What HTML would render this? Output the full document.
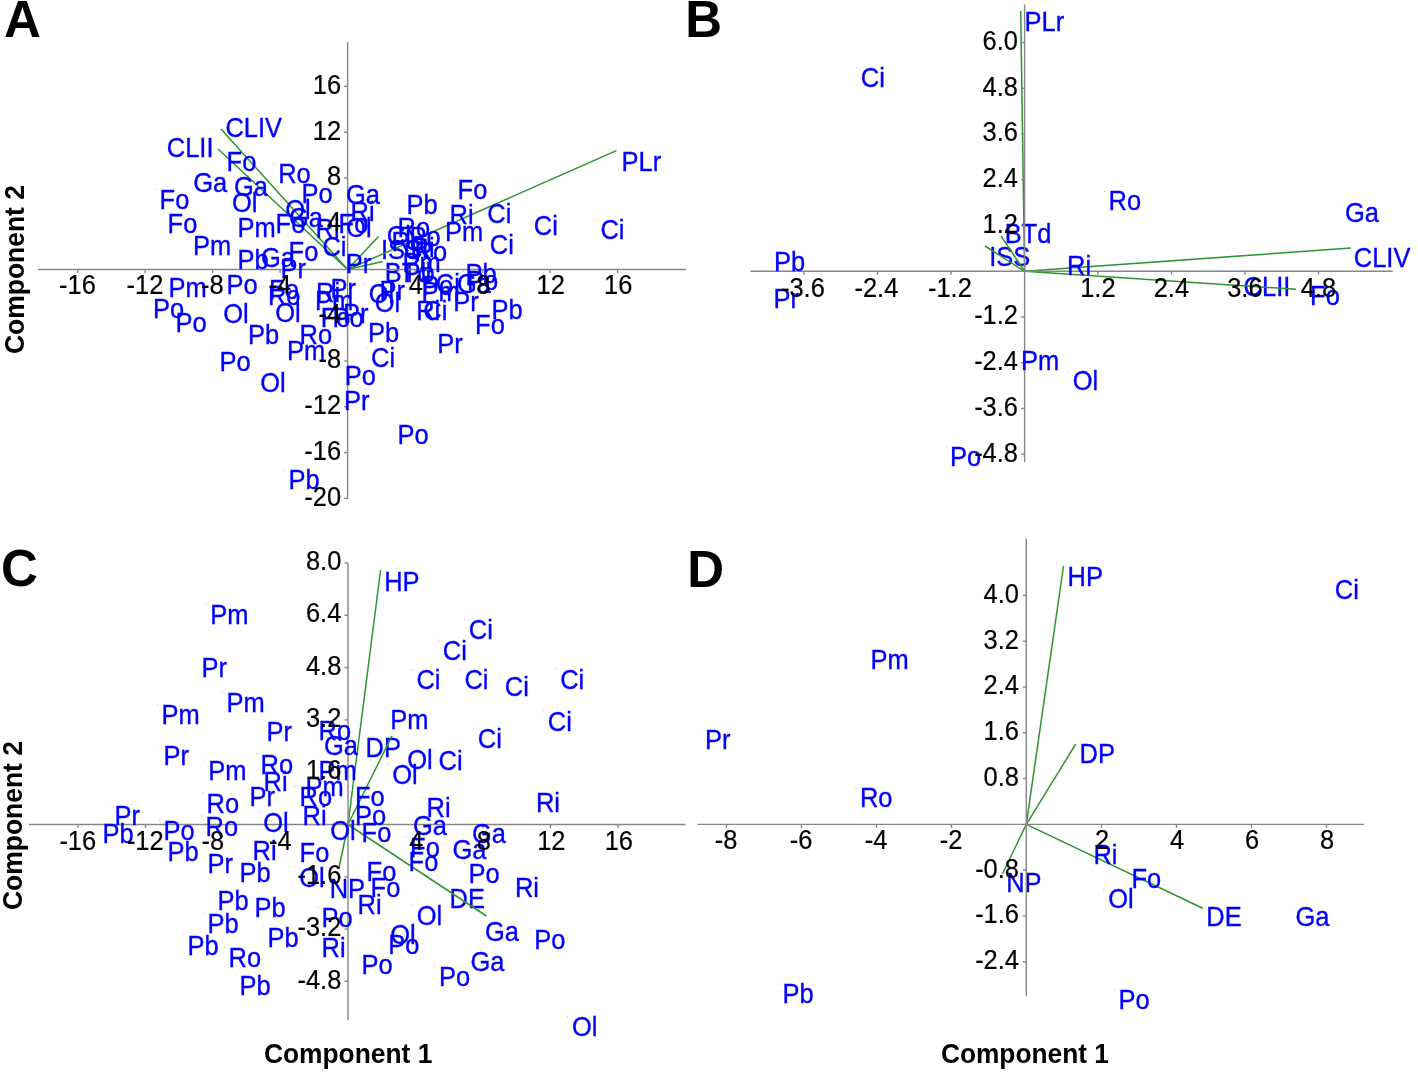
<!DOCTYPE html>
<html><head><meta charset="utf-8"><title>PCA biplots</title>
<style>
html,body{margin:0;padding:0;background:#fff;}
svg{display:block;font-family:"Liberation Sans",Arial,sans-serif;font-size:27.1px;}
</style></head><body>
<svg width="1418" height="1073" viewBox="0 0 1418 1073">
<rect width="1418" height="1073" fill="#fff"/>
<g fill="#0000ff" stroke="#0000ff" stroke-width="0.35">
<text transform="translate(225.4 136.5) scale(0.94 1)">CLIV</text>
<text transform="translate(166.8 156.5) scale(0.94 1)">CLII</text>
<text transform="translate(621.6 170.9) scale(0.94 1)">PLr</text>
<text transform="translate(380.9 258.5) scale(0.94 1)">ISS</text>
<text transform="translate(384.7 282.4) scale(0.94 1)">BTd</text>
</g>
<g stroke="#2f942f" stroke-width="1.5" fill="none">
<line x1="347.6" y1="269.5" x2="221" y2="129"/>
<line x1="347.6" y1="269.5" x2="218" y2="149"/>
<line x1="347.6" y1="269.5" x2="616.4" y2="150.6"/>
<line x1="347.6" y1="269.5" x2="378.5" y2="236.4"/>
<line x1="347.6" y1="269.5" x2="382.6" y2="261.4"/>
</g>
<g stroke="#878787" stroke-width="1.4" fill="none">
<line x1="37.9" y1="269.5" x2="686" y2="269.5"/>
<line x1="347.6" y1="42" x2="347.6" y2="498.5"/>
<line x1="77.7" y1="269.5" x2="77.7" y2="273.0"/>
<line x1="145.2" y1="269.5" x2="145.2" y2="273.0"/>
<line x1="212.6" y1="269.5" x2="212.6" y2="273.0"/>
<line x1="280.1" y1="269.5" x2="280.1" y2="273.0"/>
<line x1="415.1" y1="269.5" x2="415.1" y2="273.0"/>
<line x1="482.6" y1="269.5" x2="482.6" y2="273.0"/>
<line x1="550" y1="269.5" x2="550" y2="273.0"/>
<line x1="617.5" y1="269.5" x2="617.5" y2="273.0"/>
<line x1="344.1" y1="86.4" x2="347.6" y2="86.4"/>
<line x1="344.1" y1="132.2" x2="347.6" y2="132.2"/>
<line x1="344.1" y1="178" x2="347.6" y2="178"/>
<line x1="344.1" y1="223.7" x2="347.6" y2="223.7"/>
<line x1="344.1" y1="315.3" x2="347.6" y2="315.3"/>
<line x1="344.1" y1="361.1" x2="347.6" y2="361.1"/>
<line x1="344.1" y1="406.8" x2="347.6" y2="406.8"/>
<line x1="344.1" y1="452.6" x2="347.6" y2="452.6"/>
<line x1="344.1" y1="498.4" x2="347.6" y2="498.4"/>
</g>
<g fill="#0000ff" stroke="#0000ff" stroke-width="0.35">
<text transform="translate(226.6 170.5) scale(0.94 1)">Fo</text>
<text transform="translate(278.2 182.5) scale(0.94 1)">Ro</text>
<text transform="translate(193.3 191.9) scale(0.94 1)">Ga</text>
<text transform="translate(233.9 195.9) scale(0.94 1)">Ga</text>
<text transform="translate(301.6 202.5) scale(0.94 1)">Po</text>
<text transform="translate(345.9 203.9) scale(0.94 1)">Ga</text>
<text transform="translate(159.6 208.5) scale(0.94 1)">Fo</text>
<text transform="translate(231.9 211.9) scale(0.94 1)">Ol</text>
<text transform="translate(406.6 213.9) scale(0.94 1)">Pb</text>
<text transform="translate(285.3 218.9) scale(0.94 1)">Ol</text>
<text transform="translate(350.6 220.9) scale(0.94 1)">Ri</text>
<text transform="translate(288.9 226.9) scale(0.94 1)">Ga</text>
<text transform="translate(167.6 232.5) scale(0.94 1)">Fo</text>
<text transform="translate(275.6 232.5) scale(0.94 1)">Fo</text>
<text transform="translate(338.6 233.3) scale(0.94 1)">Fo</text>
<text transform="translate(346.3 237.3) scale(0.94 1)">Ol</text>
<text transform="translate(237.6 237.3) scale(0.94 1)">Pm</text>
<text transform="translate(315.6 237.9) scale(0.94 1)">Ri</text>
<text transform="translate(397.6 236.9) scale(0.94 1)">Ro</text>
<text transform="translate(193.0 255.3) scale(0.94 1)">Pm</text>
<text transform="translate(288.6 260.9) scale(0.94 1)">Fo</text>
<text transform="translate(322.4 255.9) scale(0.94 1)">Ci</text>
<text transform="translate(237.6 268.9) scale(0.94 1)">Pb</text>
<text transform="translate(260.9 266.9) scale(0.94 1)">Ga</text>
<text transform="translate(280.6 277.9) scale(0.94 1)">Pr</text>
<text transform="translate(345.8 272.9) scale(0.94 1)">Pr</text>
<text transform="translate(457.6 198.9) scale(0.94 1)">Fo</text>
<text transform="translate(449.6 223.5) scale(0.94 1)">Ri</text>
<text transform="translate(487.3 223.3) scale(0.94 1)">Ci</text>
<text transform="translate(533.8 234.9) scale(0.94 1)">Ci</text>
<text transform="translate(600.4 239.3) scale(0.94 1)">Ci</text>
<text transform="translate(445.0 241.2) scale(0.94 1)">Pm</text>
<text transform="translate(489.8 253.7) scale(0.94 1)">Ci</text>
<text transform="translate(168.6 296.9) scale(0.94 1)">Pm</text>
<text transform="translate(226.6 293.9) scale(0.94 1)">Po</text>
<text transform="translate(267.9 305.4) scale(0.94 1)">Ro</text>
<text transform="translate(269.1 299.4) scale(0.94 1)">Fo</text>
<text transform="translate(153.0 317.9) scale(0.94 1)">Po</text>
<text transform="translate(175.6 331.5) scale(0.94 1)">Po</text>
<text transform="translate(223.3 322.9) scale(0.94 1)">Ol</text>
<text transform="translate(275.3 321.9) scale(0.94 1)">Ol</text>
<text transform="translate(316.1 302.4) scale(0.94 1)">Ri</text>
<text transform="translate(330.6 297.9) scale(0.94 1)">Pr</text>
<text transform="translate(314.9 309.9) scale(0.94 1)">Pm</text>
<text transform="translate(343.1 323.4) scale(0.94 1)">Pr</text>
<text transform="translate(320.8 326.9) scale(0.94 1)">Fo</text>
<text transform="translate(332.6 326.9) scale(0.94 1)">Po</text>
<text transform="translate(368.8 302.9) scale(0.94 1)">Ol</text>
<text transform="translate(379.6 299.9) scale(0.94 1)">Pr</text>
<text transform="translate(374.8 311.5) scale(0.94 1)">Ol</text>
<text transform="translate(248.0 343.9) scale(0.94 1)">Pb</text>
<text transform="translate(299.6 343.9) scale(0.94 1)">Ro</text>
<text transform="translate(367.9 341.9) scale(0.94 1)">Pb</text>
<text transform="translate(286.9 359.9) scale(0.94 1)">Pm</text>
<text transform="translate(371.0 367.3) scale(0.94 1)">Ci</text>
<text transform="translate(219.6 370.9) scale(0.94 1)">Po</text>
<text transform="translate(260.3 391.9) scale(0.94 1)">Ol</text>
<text transform="translate(344.8 384.5) scale(0.94 1)">Po</text>
<text transform="translate(343.9 409.9) scale(0.94 1)">Pr</text>
<text transform="translate(397.6 443.9) scale(0.94 1)">Po</text>
<text transform="translate(288.6 488.9) scale(0.94 1)">Pb</text>
<text transform="translate(386.8 244.9) scale(0.94 1)">Ci</text>
<text transform="translate(391.6 250.9) scale(0.94 1)">Ro</text>
<text transform="translate(409.6 245.9) scale(0.94 1)">Po</text>
<text transform="translate(414.6 260.6) scale(0.94 1)">Ro</text>
<text transform="translate(403.8 258.9) scale(0.94 1)">Ci</text>
<text transform="translate(410.6 256.9) scale(0.94 1)">Ri</text>
<text transform="translate(402.4 272.4) scale(0.94 1)">Pm</text>
<text transform="translate(403.6 281.9) scale(0.94 1)">Pb</text>
<text transform="translate(465.6 282.9) scale(0.94 1)">Pb</text>
<text transform="translate(456.9 292.9) scale(0.94 1)">Ga</text>
<text transform="translate(467.1 290.4) scale(0.94 1)">Po</text>
<text transform="translate(435.8 292.9) scale(0.94 1)">Ci</text>
<text transform="translate(422.1 294.9) scale(0.94 1)">Po</text>
<text transform="translate(421.5 301.4) scale(0.94 1)">Pm</text>
<text transform="translate(453.2 310.8) scale(0.94 1)">Pr</text>
<text transform="translate(491.6 318.9) scale(0.94 1)">Pb</text>
<text transform="translate(475.1 333.9) scale(0.94 1)">Fo</text>
<text transform="translate(416.2 320.3) scale(0.94 1)">Ri</text>
<text transform="translate(423.3 320.3) scale(0.94 1)">Ci</text>
<text transform="translate(437.3 353.4) scale(0.94 1)">Pr</text>
</g>
<g opacity="0.32">
<rect x="222.1" y="151.0" width="1.3" height="1.3" fill="#cd5c5c"/>
<rect x="273.7" y="163.0" width="1.3" height="1.3" fill="#333333"/>
<rect x="188.5" y="172.4" width="1.3" height="1.3" fill="#7fffd4"/>
<rect x="229.1" y="176.4" width="1.3" height="1.3" fill="#7fffd4"/>
<rect x="297.1" y="183.0" width="1.3" height="1.3" fill="#4169e1"/>
<rect x="341.1" y="184.4" width="1.3" height="1.3" fill="#7fffd4"/>
<rect x="155.1" y="189.0" width="1.3" height="1.3" fill="#cd5c5c"/>
<rect x="226.7" y="192.4" width="1.3" height="1.3" fill="#ff00ff"/>
<rect x="402.1" y="194.4" width="1.3" height="1.3" fill="#da70d6"/>
<rect x="280.1" y="199.4" width="1.3" height="1.3" fill="#ff00ff"/>
<rect x="346.1" y="201.4" width="1.3" height="1.3" fill="#a9a9a9"/>
<rect x="284.1" y="207.4" width="1.3" height="1.3" fill="#7fffd4"/>
<rect x="163.1" y="213.0" width="1.3" height="1.3" fill="#cd5c5c"/>
<rect x="271.1" y="213.0" width="1.3" height="1.3" fill="#cd5c5c"/>
<rect x="334.1" y="213.8" width="1.3" height="1.3" fill="#cd5c5c"/>
<rect x="341.1" y="217.8" width="1.3" height="1.3" fill="#ff00ff"/>
<rect x="233.1" y="217.8" width="1.3" height="1.3" fill="#5f9ea0"/>
<rect x="311.1" y="218.4" width="1.3" height="1.3" fill="#a9a9a9"/>
<rect x="393.1" y="217.4" width="1.3" height="1.3" fill="#333333"/>
<rect x="188.5" y="235.8" width="1.3" height="1.3" fill="#5f9ea0"/>
<rect x="284.1" y="241.4" width="1.3" height="1.3" fill="#cd5c5c"/>
<rect x="317.7" y="236.4" width="1.3" height="1.3" fill="#d2691e"/>
<rect x="233.1" y="249.4" width="1.3" height="1.3" fill="#da70d6"/>
<rect x="256.1" y="247.4" width="1.3" height="1.3" fill="#7fffd4"/>
<rect x="276.1" y="258.4" width="1.3" height="1.3" fill="#90ee90"/>
<rect x="341.3" y="253.4" width="1.3" height="1.3" fill="#90ee90"/>
<rect x="453.1" y="179.4" width="1.3" height="1.3" fill="#cd5c5c"/>
<rect x="445.1" y="204.0" width="1.3" height="1.3" fill="#a9a9a9"/>
<rect x="482.6" y="203.8" width="1.3" height="1.3" fill="#d2691e"/>
<rect x="529.1" y="215.4" width="1.3" height="1.3" fill="#d2691e"/>
<rect x="595.7" y="219.8" width="1.3" height="1.3" fill="#d2691e"/>
<rect x="440.5" y="221.7" width="1.3" height="1.3" fill="#5f9ea0"/>
<rect x="485.1" y="234.2" width="1.3" height="1.3" fill="#d2691e"/>
<rect x="164.1" y="277.4" width="1.3" height="1.3" fill="#5f9ea0"/>
<rect x="222.1" y="274.4" width="1.3" height="1.3" fill="#4169e1"/>
<rect x="263.4" y="285.9" width="1.3" height="1.3" fill="#333333"/>
<rect x="264.6" y="279.9" width="1.3" height="1.3" fill="#cd5c5c"/>
<rect x="148.5" y="298.4" width="1.3" height="1.3" fill="#4169e1"/>
<rect x="171.1" y="312.0" width="1.3" height="1.3" fill="#4169e1"/>
<rect x="218.1" y="303.4" width="1.3" height="1.3" fill="#ff00ff"/>
<rect x="270.1" y="302.4" width="1.3" height="1.3" fill="#ff00ff"/>
<rect x="311.6" y="282.9" width="1.3" height="1.3" fill="#a9a9a9"/>
<rect x="326.1" y="278.4" width="1.3" height="1.3" fill="#90ee90"/>
<rect x="310.4" y="290.4" width="1.3" height="1.3" fill="#5f9ea0"/>
<rect x="338.6" y="303.9" width="1.3" height="1.3" fill="#90ee90"/>
<rect x="316.3" y="307.4" width="1.3" height="1.3" fill="#cd5c5c"/>
<rect x="328.1" y="307.4" width="1.3" height="1.3" fill="#4169e1"/>
<rect x="363.6" y="283.4" width="1.3" height="1.3" fill="#ff00ff"/>
<rect x="375.1" y="280.4" width="1.3" height="1.3" fill="#90ee90"/>
<rect x="369.6" y="292.0" width="1.3" height="1.3" fill="#ff00ff"/>
<rect x="243.5" y="324.4" width="1.3" height="1.3" fill="#da70d6"/>
<rect x="295.1" y="324.4" width="1.3" height="1.3" fill="#333333"/>
<rect x="363.4" y="322.4" width="1.3" height="1.3" fill="#da70d6"/>
<rect x="282.4" y="340.4" width="1.3" height="1.3" fill="#5f9ea0"/>
<rect x="366.3" y="347.8" width="1.3" height="1.3" fill="#d2691e"/>
<rect x="215.1" y="351.4" width="1.3" height="1.3" fill="#4169e1"/>
<rect x="255.1" y="372.4" width="1.3" height="1.3" fill="#ff00ff"/>
<rect x="340.3" y="365.0" width="1.3" height="1.3" fill="#4169e1"/>
<rect x="339.4" y="390.4" width="1.3" height="1.3" fill="#90ee90"/>
<rect x="393.1" y="424.4" width="1.3" height="1.3" fill="#4169e1"/>
<rect x="284.1" y="469.4" width="1.3" height="1.3" fill="#da70d6"/>
<rect x="382.1" y="225.4" width="1.3" height="1.3" fill="#d2691e"/>
<rect x="387.1" y="231.4" width="1.3" height="1.3" fill="#333333"/>
<rect x="405.1" y="226.4" width="1.3" height="1.3" fill="#4169e1"/>
<rect x="410.1" y="241.1" width="1.3" height="1.3" fill="#333333"/>
<rect x="399.1" y="239.4" width="1.3" height="1.3" fill="#d2691e"/>
<rect x="406.1" y="237.4" width="1.3" height="1.3" fill="#a9a9a9"/>
<rect x="397.9" y="252.9" width="1.3" height="1.3" fill="#5f9ea0"/>
<rect x="399.1" y="262.4" width="1.3" height="1.3" fill="#da70d6"/>
<rect x="461.1" y="263.4" width="1.3" height="1.3" fill="#da70d6"/>
<rect x="452.1" y="273.4" width="1.3" height="1.3" fill="#7fffd4"/>
<rect x="462.6" y="270.9" width="1.3" height="1.3" fill="#4169e1"/>
<rect x="431.1" y="273.4" width="1.3" height="1.3" fill="#d2691e"/>
<rect x="417.6" y="275.4" width="1.3" height="1.3" fill="#4169e1"/>
<rect x="417.0" y="281.9" width="1.3" height="1.3" fill="#5f9ea0"/>
<rect x="448.7" y="291.3" width="1.3" height="1.3" fill="#90ee90"/>
<rect x="487.1" y="299.4" width="1.3" height="1.3" fill="#da70d6"/>
<rect x="470.6" y="314.4" width="1.3" height="1.3" fill="#cd5c5c"/>
<rect x="411.7" y="300.8" width="1.3" height="1.3" fill="#a9a9a9"/>
<rect x="418.6" y="300.8" width="1.3" height="1.3" fill="#d2691e"/>
<rect x="432.8" y="333.9" width="1.3" height="1.3" fill="#90ee90"/>
</g>
<g fill="#0000ff" stroke="#0000ff" stroke-width="0.35">
<text transform="translate(1024.6 30.9) scale(0.94 1)">PLr</text>
<text transform="translate(1004.7 242.9) scale(0.94 1)">BTd</text>
<text transform="translate(989.3 265.9) scale(0.94 1)">ISS</text>
<text transform="translate(1353.8 267.4) scale(0.94 1)">CLIV</text>
<text transform="translate(1243.6 295.9) scale(0.94 1)">CLII</text>
</g>
<g stroke="#2f942f" stroke-width="1.5" fill="none">
<line x1="1024.6" y1="271.3" x2="1020.7" y2="11"/>
<line x1="1024.6" y1="271.3" x2="1001" y2="236"/>
<line x1="1024.6" y1="271.3" x2="985" y2="246"/>
<line x1="1024.6" y1="271.3" x2="1351" y2="248"/>
<line x1="1024.6" y1="271.3" x2="1296" y2="289.25"/>
</g>
<g stroke="#878787" stroke-width="1.4" fill="none">
<line x1="750.5" y1="271.3" x2="1392.8" y2="271.3"/>
<line x1="1024.6" y1="4.5" x2="1024.6" y2="462"/>
<line x1="804" y1="271.3" x2="804" y2="274.8"/>
<line x1="877.5" y1="271.3" x2="877.5" y2="274.8"/>
<line x1="951" y1="271.3" x2="951" y2="274.8"/>
<line x1="1098" y1="271.3" x2="1098" y2="274.8"/>
<line x1="1171.5" y1="271.3" x2="1171.5" y2="274.8"/>
<line x1="1245" y1="271.3" x2="1245" y2="274.8"/>
<line x1="1318.5" y1="271.3" x2="1318.5" y2="274.8"/>
<line x1="1021.0999999999999" y1="42.5" x2="1024.6" y2="42.5"/>
<line x1="1021.0999999999999" y1="88.25" x2="1024.6" y2="88.25"/>
<line x1="1021.0999999999999" y1="134" x2="1024.6" y2="134"/>
<line x1="1021.0999999999999" y1="179.75" x2="1024.6" y2="179.75"/>
<line x1="1021.0999999999999" y1="225.5" x2="1024.6" y2="225.5"/>
<line x1="1021.0999999999999" y1="317" x2="1024.6" y2="317"/>
<line x1="1021.0999999999999" y1="362.75" x2="1024.6" y2="362.75"/>
<line x1="1021.0999999999999" y1="408.5" x2="1024.6" y2="408.5"/>
<line x1="1021.0999999999999" y1="454.25" x2="1024.6" y2="454.25"/>
</g>
<g fill="#0000ff" stroke="#0000ff" stroke-width="0.35">
<text transform="translate(860.8 86.9) scale(0.94 1)">Ci</text>
<text transform="translate(1108.6 210.4) scale(0.94 1)">Ro</text>
<text transform="translate(1344.9 221.9) scale(0.94 1)">Ga</text>
<text transform="translate(1067.1 274.6) scale(0.94 1)">Ri</text>
<text transform="translate(774.1 270.9) scale(0.94 1)">Pb</text>
<text transform="translate(773.6 308.4) scale(0.94 1)">Pr</text>
<text transform="translate(1021.1 369.6) scale(0.94 1)">Pm</text>
<text transform="translate(1072.8 390.4) scale(0.94 1)">Ol</text>
<text transform="translate(949.9 465.9) scale(0.94 1)">Po</text>
<text transform="translate(1310.1 305.4) scale(0.94 1)">Fo</text>
</g>
<g opacity="0.32">
<rect x="856.1" y="67.4" width="1.3" height="1.3" fill="#d2691e"/>
<rect x="1104.1" y="190.9" width="1.3" height="1.3" fill="#333333"/>
<rect x="1340.1" y="202.4" width="1.3" height="1.3" fill="#7fffd4"/>
<rect x="1062.6" y="255.2" width="1.3" height="1.3" fill="#a9a9a9"/>
<rect x="769.6" y="251.4" width="1.3" height="1.3" fill="#da70d6"/>
<rect x="769.1" y="288.9" width="1.3" height="1.3" fill="#90ee90"/>
<rect x="1016.6" y="350.1" width="1.3" height="1.3" fill="#5f9ea0"/>
<rect x="1067.6" y="370.9" width="1.3" height="1.3" fill="#ff00ff"/>
<rect x="945.4" y="446.4" width="1.3" height="1.3" fill="#4169e1"/>
<rect x="1305.6" y="285.9" width="1.3" height="1.3" fill="#cd5c5c"/>
</g>
<g fill="#0000ff" stroke="#0000ff" stroke-width="0.35">
<text transform="translate(384.2 590.8) scale(0.94 1)">HP</text>
<text transform="translate(365.5 756.8) scale(0.94 1)">DP</text>
<text transform="translate(329.7 898.3) scale(0.94 1)">NP</text>
<text transform="translate(449.5 908.3) scale(0.94 1)">DE</text>
</g>
<g stroke="#2f942f" stroke-width="1.5" fill="none">
<line x1="348" y1="824.5" x2="380.6" y2="570"/>
<line x1="348" y1="824.5" x2="392" y2="735.8"/>
<line x1="348" y1="824.5" x2="339" y2="868"/>
<line x1="348" y1="824.5" x2="486.4" y2="916"/>
</g>
<g stroke="#878787" stroke-width="1.4" fill="none">
<line x1="29" y1="824.5" x2="685.5" y2="824.5"/>
<line x1="348" y1="563" x2="348" y2="1020"/>
<line x1="78" y1="824.5" x2="78" y2="828.0"/>
<line x1="145.5" y1="824.5" x2="145.5" y2="828.0"/>
<line x1="213" y1="824.5" x2="213" y2="828.0"/>
<line x1="280.5" y1="824.5" x2="280.5" y2="828.0"/>
<line x1="415.5" y1="824.5" x2="415.5" y2="828.0"/>
<line x1="483" y1="824.5" x2="483" y2="828.0"/>
<line x1="550.5" y1="824.5" x2="550.5" y2="828.0"/>
<line x1="618" y1="824.5" x2="618" y2="828.0"/>
<line x1="344.5" y1="563" x2="348" y2="563"/>
<line x1="344.5" y1="615.3" x2="348" y2="615.3"/>
<line x1="344.5" y1="667.6" x2="348" y2="667.6"/>
<line x1="344.5" y1="719.9" x2="348" y2="719.9"/>
<line x1="344.5" y1="772.2" x2="348" y2="772.2"/>
<line x1="344.5" y1="876.8" x2="348" y2="876.8"/>
<line x1="344.5" y1="929.1" x2="348" y2="929.1"/>
<line x1="344.5" y1="981.4" x2="348" y2="981.4"/>
</g>
<g fill="#0000ff" stroke="#0000ff" stroke-width="0.35">
<text transform="translate(210.2 623.8) scale(0.94 1)">Pm</text>
<text transform="translate(201.6 676.8) scale(0.94 1)">Pr</text>
<text transform="translate(226.6 711.8) scale(0.94 1)">Pm</text>
<text transform="translate(161.6 724.4) scale(0.94 1)">Pm</text>
<text transform="translate(266.6 740.8) scale(0.94 1)">Pr</text>
<text transform="translate(163.6 764.8) scale(0.94 1)">Pr</text>
<text transform="translate(208.2 779.8) scale(0.94 1)">Pm</text>
<text transform="translate(260.6 773.8) scale(0.94 1)">Ro</text>
<text transform="translate(263.6 790.8) scale(0.94 1)">Ri</text>
<text transform="translate(249.6 805.8) scale(0.94 1)">Pr</text>
<text transform="translate(206.6 812.8) scale(0.94 1)">Ro</text>
<text transform="translate(114.6 824.8) scale(0.94 1)">Pr</text>
<text transform="translate(102.6 843.3) scale(0.94 1)">Pb</text>
<text transform="translate(163.6 839.8) scale(0.94 1)">Po</text>
<text transform="translate(205.6 835.8) scale(0.94 1)">Ro</text>
<text transform="translate(263.3 831.8) scale(0.94 1)">Ol</text>
<text transform="translate(167.6 860.8) scale(0.94 1)">Pb</text>
<text transform="translate(252.6 859.8) scale(0.94 1)">Ri</text>
<text transform="translate(207.6 873.3) scale(0.94 1)">Pr</text>
<text transform="translate(239.6 882.3) scale(0.94 1)">Pb</text>
<text transform="translate(217.6 910.3) scale(0.94 1)">Pb</text>
<text transform="translate(254.6 917.3) scale(0.94 1)">Pb</text>
<text transform="translate(207.6 932.8) scale(0.94 1)">Pb</text>
<text transform="translate(187.6 954.8) scale(0.94 1)">Pb</text>
<text transform="translate(267.6 946.8) scale(0.94 1)">Pb</text>
<text transform="translate(228.6 967.4) scale(0.94 1)">Ro</text>
<text transform="translate(239.6 994.8) scale(0.94 1)">Pb</text>
<text transform="translate(468.8 639.4) scale(0.94 1)">Ci</text>
<text transform="translate(442.8 660.2) scale(0.94 1)">Ci</text>
<text transform="translate(416.4 689.4) scale(0.94 1)">Ci</text>
<text transform="translate(464.4 689.4) scale(0.94 1)">Ci</text>
<text transform="translate(504.8 696.2) scale(0.94 1)">Ci</text>
<text transform="translate(560.2 688.8) scale(0.94 1)">Ci</text>
<text transform="translate(390.2 728.5) scale(0.94 1)">Pm</text>
<text transform="translate(547.8 731.3) scale(0.94 1)">Ci</text>
<text transform="translate(477.8 747.8) scale(0.94 1)">Ci</text>
<text transform="translate(318.6 739.8) scale(0.94 1)">Ro</text>
<text transform="translate(323.9 755.3) scale(0.94 1)">Ga</text>
<text transform="translate(407.3 768.8) scale(0.94 1)">Ol</text>
<text transform="translate(438.6 769.8) scale(0.94 1)">Ci</text>
<text transform="translate(392.3 784.2) scale(0.94 1)">Ol</text>
<text transform="translate(318.6 779.8) scale(0.94 1)">Pm</text>
<text transform="translate(305.6 795.8) scale(0.94 1)">Pm</text>
<text transform="translate(299.6 805.8) scale(0.94 1)">Ro</text>
<text transform="translate(355.0 805.8) scale(0.94 1)">Fo</text>
<text transform="translate(426.6 817.3) scale(0.94 1)">Ri</text>
<text transform="translate(535.9 811.8) scale(0.94 1)">Ri</text>
<text transform="translate(302.6 824.8) scale(0.94 1)">Ri</text>
<text transform="translate(355.0 824.8) scale(0.94 1)">Po</text>
<text transform="translate(330.3 839.8) scale(0.94 1)">Ol</text>
<text transform="translate(361.6 841.8) scale(0.94 1)">Fo</text>
<text transform="translate(412.9 834.8) scale(0.94 1)">Ga</text>
<text transform="translate(471.9 842.8) scale(0.94 1)">Ga</text>
<text transform="translate(410.1 856.8) scale(0.94 1)">Fo</text>
<text transform="translate(452.5 858.8) scale(0.94 1)">Ga</text>
<text transform="translate(408.6 871.1) scale(0.94 1)">Fo</text>
<text transform="translate(299.6 861.8) scale(0.94 1)">Fo</text>
<text transform="translate(299.3 886.8) scale(0.94 1)">Ol</text>
<text transform="translate(366.6 880.8) scale(0.94 1)">Fo</text>
<text transform="translate(468.6 883.1) scale(0.94 1)">Po</text>
<text transform="translate(370.6 897.1) scale(0.94 1)">Fo</text>
<text transform="translate(514.9 897.0) scale(0.94 1)">Ri</text>
<text transform="translate(357.6 914.3) scale(0.94 1)">Ri</text>
<text transform="translate(416.8 925.1) scale(0.94 1)">Ol</text>
<text transform="translate(321.6 926.8) scale(0.94 1)">Po</text>
<text transform="translate(484.9 941.0) scale(0.94 1)">Ga</text>
<text transform="translate(534.3 948.6) scale(0.94 1)">Po</text>
<text transform="translate(390.3 943.8) scale(0.94 1)">Ol</text>
<text transform="translate(388.2 954.2) scale(0.94 1)">Po</text>
<text transform="translate(321.6 956.8) scale(0.94 1)">Ri</text>
<text transform="translate(361.6 974.2) scale(0.94 1)">Po</text>
<text transform="translate(470.4 970.8) scale(0.94 1)">Ga</text>
<text transform="translate(439.0 985.8) scale(0.94 1)">Po</text>
<text transform="translate(572.0 1036.4) scale(0.94 1)">Ol</text>
</g>
<g opacity="0.32">
<rect x="205.7" y="603.4" width="1.3" height="1.3" fill="#5f9ea0"/>
<rect x="197.1" y="656.4" width="1.3" height="1.3" fill="#90ee90"/>
<rect x="222.1" y="691.4" width="1.3" height="1.3" fill="#5f9ea0"/>
<rect x="157.1" y="704.0" width="1.3" height="1.3" fill="#5f9ea0"/>
<rect x="262.1" y="720.4" width="1.3" height="1.3" fill="#90ee90"/>
<rect x="159.1" y="744.4" width="1.3" height="1.3" fill="#90ee90"/>
<rect x="203.7" y="759.4" width="1.3" height="1.3" fill="#5f9ea0"/>
<rect x="256.1" y="753.4" width="1.3" height="1.3" fill="#333333"/>
<rect x="259.1" y="770.4" width="1.3" height="1.3" fill="#a9a9a9"/>
<rect x="245.1" y="785.4" width="1.3" height="1.3" fill="#90ee90"/>
<rect x="202.1" y="792.4" width="1.3" height="1.3" fill="#333333"/>
<rect x="110.1" y="804.4" width="1.3" height="1.3" fill="#90ee90"/>
<rect x="98.1" y="822.9" width="1.3" height="1.3" fill="#da70d6"/>
<rect x="159.1" y="819.4" width="1.3" height="1.3" fill="#4169e1"/>
<rect x="201.1" y="815.4" width="1.3" height="1.3" fill="#333333"/>
<rect x="258.1" y="811.4" width="1.3" height="1.3" fill="#ff00ff"/>
<rect x="163.1" y="840.4" width="1.3" height="1.3" fill="#da70d6"/>
<rect x="248.1" y="839.4" width="1.3" height="1.3" fill="#a9a9a9"/>
<rect x="203.1" y="852.9" width="1.3" height="1.3" fill="#90ee90"/>
<rect x="235.1" y="861.9" width="1.3" height="1.3" fill="#da70d6"/>
<rect x="213.1" y="889.9" width="1.3" height="1.3" fill="#da70d6"/>
<rect x="250.1" y="896.9" width="1.3" height="1.3" fill="#da70d6"/>
<rect x="203.1" y="912.4" width="1.3" height="1.3" fill="#da70d6"/>
<rect x="183.1" y="934.4" width="1.3" height="1.3" fill="#da70d6"/>
<rect x="263.1" y="926.4" width="1.3" height="1.3" fill="#da70d6"/>
<rect x="224.1" y="947.0" width="1.3" height="1.3" fill="#333333"/>
<rect x="235.1" y="974.4" width="1.3" height="1.3" fill="#da70d6"/>
<rect x="464.1" y="619.0" width="1.3" height="1.3" fill="#d2691e"/>
<rect x="438.1" y="639.8" width="1.3" height="1.3" fill="#d2691e"/>
<rect x="411.7" y="669.0" width="1.3" height="1.3" fill="#d2691e"/>
<rect x="459.7" y="669.0" width="1.3" height="1.3" fill="#d2691e"/>
<rect x="500.1" y="675.8" width="1.3" height="1.3" fill="#d2691e"/>
<rect x="555.5" y="668.4" width="1.3" height="1.3" fill="#d2691e"/>
<rect x="385.7" y="708.1" width="1.3" height="1.3" fill="#5f9ea0"/>
<rect x="543.1" y="710.9" width="1.3" height="1.3" fill="#d2691e"/>
<rect x="473.1" y="727.4" width="1.3" height="1.3" fill="#d2691e"/>
<rect x="314.1" y="719.4" width="1.3" height="1.3" fill="#333333"/>
<rect x="319.1" y="734.9" width="1.3" height="1.3" fill="#7fffd4"/>
<rect x="402.1" y="748.4" width="1.3" height="1.3" fill="#ff00ff"/>
<rect x="433.9" y="749.4" width="1.3" height="1.3" fill="#d2691e"/>
<rect x="387.1" y="763.8" width="1.3" height="1.3" fill="#ff00ff"/>
<rect x="314.1" y="759.4" width="1.3" height="1.3" fill="#5f9ea0"/>
<rect x="301.1" y="775.4" width="1.3" height="1.3" fill="#5f9ea0"/>
<rect x="295.1" y="785.4" width="1.3" height="1.3" fill="#333333"/>
<rect x="350.5" y="785.4" width="1.3" height="1.3" fill="#cd5c5c"/>
<rect x="422.1" y="796.9" width="1.3" height="1.3" fill="#a9a9a9"/>
<rect x="531.4" y="791.4" width="1.3" height="1.3" fill="#a9a9a9"/>
<rect x="298.1" y="804.4" width="1.3" height="1.3" fill="#a9a9a9"/>
<rect x="350.5" y="804.4" width="1.3" height="1.3" fill="#4169e1"/>
<rect x="325.1" y="819.4" width="1.3" height="1.3" fill="#ff00ff"/>
<rect x="357.1" y="821.4" width="1.3" height="1.3" fill="#cd5c5c"/>
<rect x="408.1" y="814.4" width="1.3" height="1.3" fill="#7fffd4"/>
<rect x="467.1" y="822.4" width="1.3" height="1.3" fill="#7fffd4"/>
<rect x="405.6" y="836.4" width="1.3" height="1.3" fill="#cd5c5c"/>
<rect x="447.7" y="838.4" width="1.3" height="1.3" fill="#7fffd4"/>
<rect x="404.1" y="850.7" width="1.3" height="1.3" fill="#cd5c5c"/>
<rect x="295.1" y="841.4" width="1.3" height="1.3" fill="#cd5c5c"/>
<rect x="294.1" y="866.4" width="1.3" height="1.3" fill="#ff00ff"/>
<rect x="362.1" y="860.4" width="1.3" height="1.3" fill="#cd5c5c"/>
<rect x="464.1" y="862.7" width="1.3" height="1.3" fill="#4169e1"/>
<rect x="366.1" y="876.7" width="1.3" height="1.3" fill="#cd5c5c"/>
<rect x="510.4" y="876.6" width="1.3" height="1.3" fill="#a9a9a9"/>
<rect x="353.1" y="893.9" width="1.3" height="1.3" fill="#a9a9a9"/>
<rect x="411.6" y="904.7" width="1.3" height="1.3" fill="#ff00ff"/>
<rect x="317.1" y="906.4" width="1.3" height="1.3" fill="#4169e1"/>
<rect x="480.1" y="920.6" width="1.3" height="1.3" fill="#7fffd4"/>
<rect x="529.8" y="928.2" width="1.3" height="1.3" fill="#4169e1"/>
<rect x="385.1" y="923.4" width="1.3" height="1.3" fill="#ff00ff"/>
<rect x="383.7" y="933.8" width="1.3" height="1.3" fill="#4169e1"/>
<rect x="317.1" y="936.4" width="1.3" height="1.3" fill="#a9a9a9"/>
<rect x="357.1" y="953.8" width="1.3" height="1.3" fill="#4169e1"/>
<rect x="465.6" y="950.4" width="1.3" height="1.3" fill="#7fffd4"/>
<rect x="434.5" y="965.4" width="1.3" height="1.3" fill="#4169e1"/>
<rect x="566.8" y="1016.0" width="1.3" height="1.3" fill="#ff00ff"/>
</g>
<g fill="#0000ff" stroke="#0000ff" stroke-width="0.35">
<text transform="translate(1067.6 586.1) scale(0.94 1)">HP</text>
<text transform="translate(1079.5 763.1) scale(0.94 1)">DP</text>
<text transform="translate(1006.2 892.1) scale(0.94 1)">NP</text>
<text transform="translate(1206.3 926.4) scale(0.94 1)">DE</text>
</g>
<g stroke="#2f942f" stroke-width="1.5" fill="none">
<line x1="1026.3" y1="824.4" x2="1063.5" y2="566"/>
<line x1="1026.3" y1="824.4" x2="1075.75" y2="744"/>
<line x1="1026.3" y1="824.4" x2="1002.5" y2="873.75"/>
<line x1="1026.3" y1="824.4" x2="1202.75" y2="908.25"/>
</g>
<g stroke="#878787" stroke-width="1.4" fill="none">
<line x1="697.5" y1="824.4" x2="1364" y2="824.4"/>
<line x1="1026.3" y1="538.5" x2="1026.3" y2="996.3"/>
<line x1="726.5" y1="824.4" x2="726.5" y2="827.9"/>
<line x1="801.5" y1="824.4" x2="801.5" y2="827.9"/>
<line x1="876.5" y1="824.4" x2="876.5" y2="827.9"/>
<line x1="951.5" y1="824.4" x2="951.5" y2="827.9"/>
<line x1="1101.5" y1="824.4" x2="1101.5" y2="827.9"/>
<line x1="1176.5" y1="824.4" x2="1176.5" y2="827.9"/>
<line x1="1251.5" y1="824.4" x2="1251.5" y2="827.9"/>
<line x1="1326.5" y1="824.4" x2="1326.5" y2="827.9"/>
<line x1="1022.8" y1="595.4" x2="1026.3" y2="595.4"/>
<line x1="1022.8" y1="641.2" x2="1026.3" y2="641.2"/>
<line x1="1022.8" y1="687" x2="1026.3" y2="687"/>
<line x1="1022.8" y1="732.8" x2="1026.3" y2="732.8"/>
<line x1="1022.8" y1="778.6" x2="1026.3" y2="778.6"/>
<line x1="1022.8" y1="870.2" x2="1026.3" y2="870.2"/>
<line x1="1022.8" y1="916" x2="1026.3" y2="916"/>
<line x1="1022.8" y1="961.8" x2="1026.3" y2="961.8"/>
</g>
<g fill="#0000ff" stroke="#0000ff" stroke-width="0.35">
<text transform="translate(1334.8 599.4) scale(0.94 1)">Ci</text>
<text transform="translate(870.6 668.6) scale(0.94 1)">Pm</text>
<text transform="translate(704.9 748.9) scale(0.94 1)">Pr</text>
<text transform="translate(859.9 807.1) scale(0.94 1)">Ro</text>
<text transform="translate(1093.4 864.1) scale(0.94 1)">Ri</text>
<text transform="translate(1131.4 887.9) scale(0.94 1)">Fo</text>
<text transform="translate(1108.3 908.4) scale(0.94 1)">Ol</text>
<text transform="translate(1295.4 925.9) scale(0.94 1)">Ga</text>
<text transform="translate(1118.4 1008.9) scale(0.94 1)">Po</text>
<text transform="translate(782.4 1003.4) scale(0.94 1)">Pb</text>
</g>
<g opacity="0.32">
<rect x="1330.1" y="579.9" width="1.3" height="1.3" fill="#d2691e"/>
<rect x="866.1" y="649.1" width="1.3" height="1.3" fill="#5f9ea0"/>
<rect x="700.4" y="729.4" width="1.3" height="1.3" fill="#90ee90"/>
<rect x="855.4" y="787.6" width="1.3" height="1.3" fill="#333333"/>
<rect x="1088.8" y="844.6" width="1.3" height="1.3" fill="#a9a9a9"/>
<rect x="1126.8" y="868.4" width="1.3" height="1.3" fill="#cd5c5c"/>
<rect x="1103.1" y="888.9" width="1.3" height="1.3" fill="#ff00ff"/>
<rect x="1290.6" y="906.4" width="1.3" height="1.3" fill="#7fffd4"/>
<rect x="1113.8" y="989.4" width="1.3" height="1.3" fill="#4169e1"/>
<rect x="777.9" y="983.9" width="1.3" height="1.3" fill="#da70d6"/>
</g>
<g fill="#000" stroke="#000" stroke-width="0.2">
<g text-anchor="middle">
<text transform="translate(77.4 294.3) scale(0.94 1)">-16</text>
<text transform="translate(144.9 294.3) scale(0.94 1)">-12</text>
<text transform="translate(212.3 294.3) scale(0.94 1)">-8</text>
<text transform="translate(279.8 294.3) scale(0.94 1)">-4</text>
<text transform="translate(415.8 294.3) scale(0.94 1)">4</text>
<text transform="translate(483.3 294.3) scale(0.94 1)">8</text>
<text transform="translate(550.7 294.3) scale(0.94 1)">12</text>
<text transform="translate(618.2 294.3) scale(0.94 1)">16</text>
</g>
<g text-anchor="end">
<text transform="translate(341.1 93.7) scale(0.94 1)">16</text>
<text transform="translate(341.1 139.5) scale(0.94 1)">12</text>
<text transform="translate(341.1 185.3) scale(0.94 1)">8</text>
<text transform="translate(341.1 231.0) scale(0.94 1)">4</text>
<text transform="translate(341.1 322.6) scale(0.94 1)">-4</text>
<text transform="translate(341.1 368.4) scale(0.94 1)">-8</text>
<text transform="translate(341.1 414.1) scale(0.94 1)">-12</text>
<text transform="translate(341.1 459.9) scale(0.94 1)">-16</text>
<text transform="translate(341.1 505.7) scale(0.94 1)">-20</text>
</g>
<g text-anchor="middle">
<text transform="translate(802.9 296.9) scale(0.94 1)">-3.6</text>
<text transform="translate(876.4 296.9) scale(0.94 1)">-2.4</text>
<text transform="translate(949.9 296.9) scale(0.94 1)">-1.2</text>
<text transform="translate(1097.9 296.9) scale(0.94 1)">1.2</text>
<text transform="translate(1171.4 296.9) scale(0.94 1)">2.4</text>
<text transform="translate(1244.9 296.9) scale(0.94 1)">3.6</text>
<text transform="translate(1318.4 296.9) scale(0.94 1)">4.8</text>
</g>
<g text-anchor="end">
<text transform="translate(1018 49.8) scale(0.94 1)">6.0</text>
<text transform="translate(1018 95.5) scale(0.94 1)">4.8</text>
<text transform="translate(1018 141.3) scale(0.94 1)">3.6</text>
<text transform="translate(1018 187.1) scale(0.94 1)">2.4</text>
<text transform="translate(1018 232.8) scale(0.94 1)">1.2</text>
<text transform="translate(1018 324.3) scale(0.94 1)">-1.2</text>
<text transform="translate(1018 370.1) scale(0.94 1)">-2.4</text>
<text transform="translate(1018 415.8) scale(0.94 1)">-3.6</text>
<text transform="translate(1018 461.6) scale(0.94 1)">-4.8</text>
</g>
<g text-anchor="middle">
<text transform="translate(77.8 850.1) scale(0.94 1)">-16</text>
<text transform="translate(145.3 850.1) scale(0.94 1)">-12</text>
<text transform="translate(212.8 850.1) scale(0.94 1)">-8</text>
<text transform="translate(280.3 850.1) scale(0.94 1)">-4</text>
<text transform="translate(416.3 850.1) scale(0.94 1)">4</text>
<text transform="translate(483.8 850.1) scale(0.94 1)">8</text>
<text transform="translate(551.3 850.1) scale(0.94 1)">12</text>
<text transform="translate(618.8 850.1) scale(0.94 1)">16</text>
</g>
<g text-anchor="end">
<text transform="translate(341.3 570.1) scale(0.94 1)">8.0</text>
<text transform="translate(341.3 622.4) scale(0.94 1)">6.4</text>
<text transform="translate(341.3 674.7) scale(0.94 1)">4.8</text>
<text transform="translate(341.3 727.0) scale(0.94 1)">3.2</text>
<text transform="translate(341.3 779.3) scale(0.94 1)">1.6</text>
<text transform="translate(341.3 883.9) scale(0.94 1)">-1.6</text>
<text transform="translate(341.3 936.2) scale(0.94 1)">-3.2</text>
<text transform="translate(341.3 988.5) scale(0.94 1)">-4.8</text>
</g>
<g text-anchor="middle">
<text transform="translate(726.0 849.2) scale(0.94 1)">-8</text>
<text transform="translate(801.0 849.2) scale(0.94 1)">-6</text>
<text transform="translate(876.0 849.2) scale(0.94 1)">-4</text>
<text transform="translate(951.0 849.2) scale(0.94 1)">-2</text>
<text transform="translate(1102.0 849.2) scale(0.94 1)">2</text>
<text transform="translate(1177.0 849.2) scale(0.94 1)">4</text>
<text transform="translate(1252.0 849.2) scale(0.94 1)">6</text>
<text transform="translate(1327.0 849.2) scale(0.94 1)">8</text>
</g>
<g text-anchor="end">
<text transform="translate(1019 602.7) scale(0.94 1)">4.0</text>
<text transform="translate(1019 648.5) scale(0.94 1)">3.2</text>
<text transform="translate(1019 694.3) scale(0.94 1)">2.4</text>
<text transform="translate(1019 740.1) scale(0.94 1)">1.6</text>
<text transform="translate(1019 785.9) scale(0.94 1)">0.8</text>
<text transform="translate(1019 877.5) scale(0.94 1)">-0.8</text>
<text transform="translate(1019 923.3) scale(0.94 1)">-1.6</text>
<text transform="translate(1019 969.1) scale(0.94 1)">-2.4</text>
</g>
</g>
<g font-weight="bold" font-size="51px" fill="#000">
<text x="4" y="37.2">A</text>
<text x="685.2" y="37.2">B</text>
<text x="1" y="585.5">C</text>
<text x="687.3" y="586.5">D</text>
</g>
<g font-weight="bold" font-size="27.6px" fill="#000">
<text x="263.9" y="1062.8" textLength="168.5" lengthAdjust="spacingAndGlyphs">Component 1</text>
<text x="940.9" y="1062.8" textLength="168" lengthAdjust="spacingAndGlyphs">Component 1</text>
<text transform="translate(23.5,354) rotate(-90)" textLength="169" lengthAdjust="spacingAndGlyphs">Component 2</text>
<text transform="translate(21.5,910) rotate(-90)" textLength="169" lengthAdjust="spacingAndGlyphs">Component 2</text>
</g>
</svg>
</body></html>
